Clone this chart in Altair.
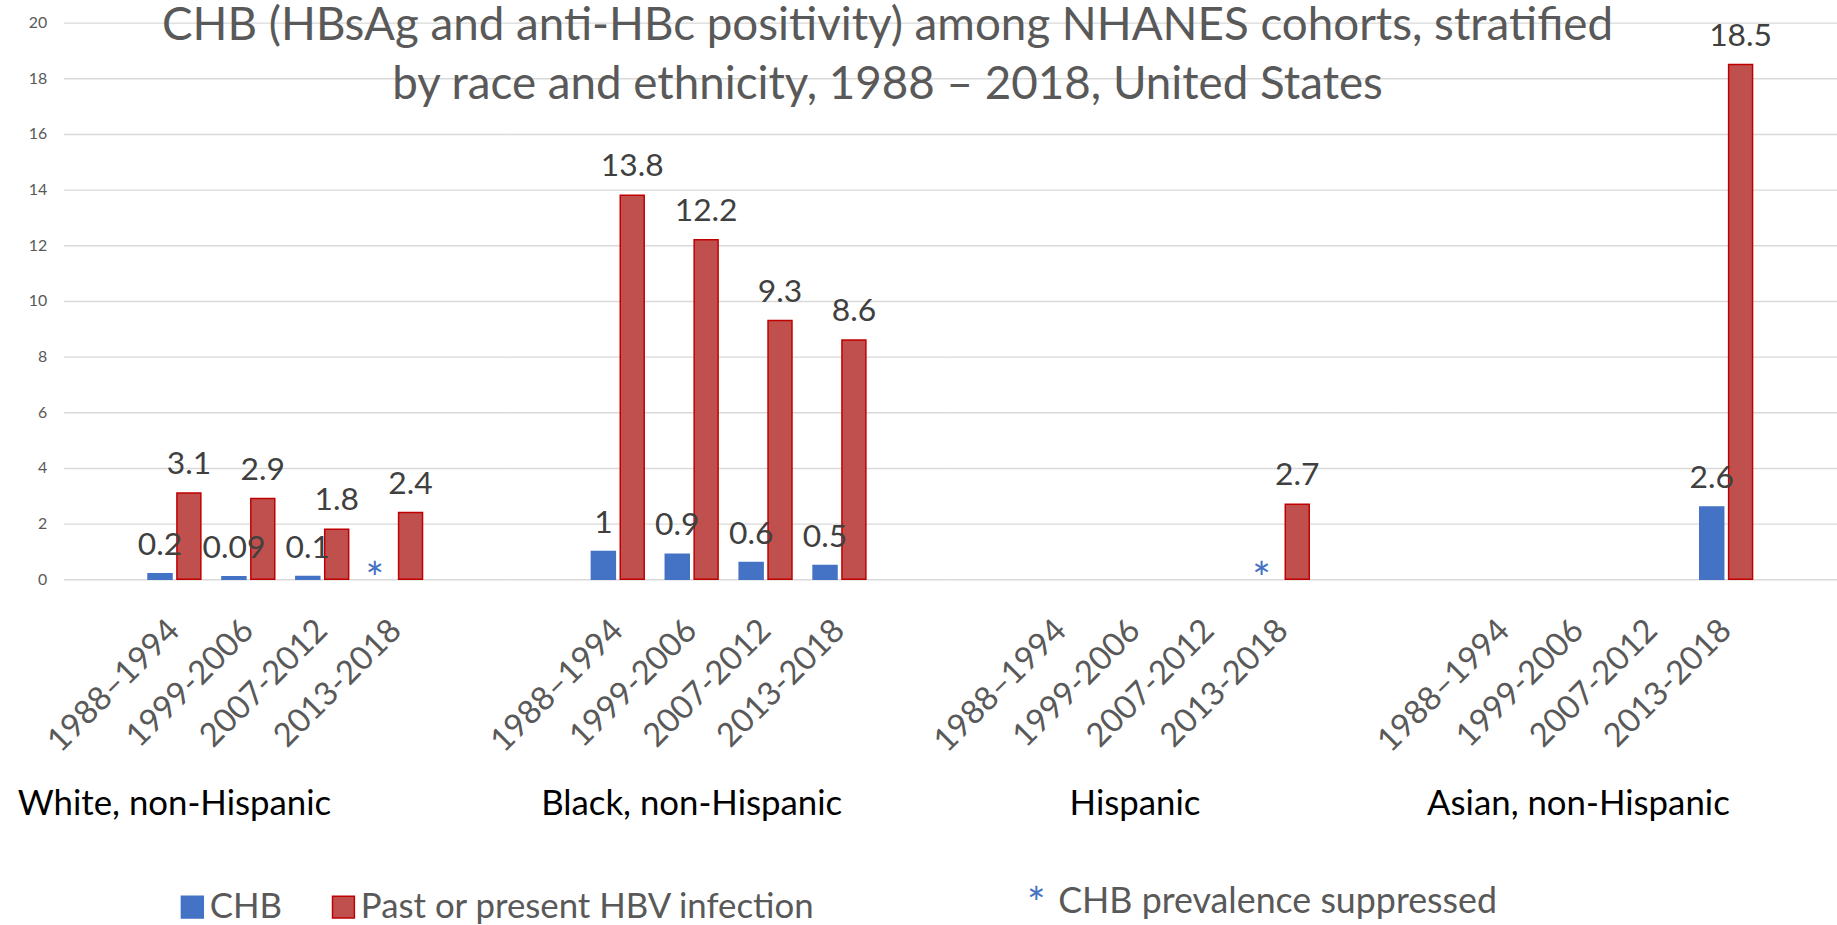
import altair as alt
import pandas as pd

groups = ["White, non-Hispanic", "Black, non-Hispanic", "Hispanic", "Asian, non-Hispanic"]
periods = ["1988–1994", "1999-2006", "2007-2012", "2013-2018"]
series = ["CHB", "Past or present HBV infection"]

chb_values = {
    "White, non-Hispanic": [0.2, 0.09, 0.1, None],
    "Black, non-Hispanic": [1, 0.9, 0.6, 0.5],
    "Hispanic": [None, None, None, None],
    "Asian, non-Hispanic": [None, None, None, 2.6],
}
chb_suppressed = {
    "White, non-Hispanic": [False, False, False, True],
    "Black, non-Hispanic": [False, False, False, False],
    "Hispanic": [False, False, False, True],
    "Asian, non-Hispanic": [False, False, False, False],
}
past_values = {
    "White, non-Hispanic": [3.1, 2.9, 1.8, 2.4],
    "Black, non-Hispanic": [13.8, 12.2, 9.3, 8.6],
    "Hispanic": [None, None, None, 2.7],
    "Asian, non-Hispanic": [None, None, None, 18.5],
}
group_label_anchor = {
    "White, non-Hispanic": "1988–1994",
    "Black, non-Hispanic": "1999-2006",
    "Hispanic": "1999-2006",
    "Asian, non-Hispanic": "1999-2006",
}

title_lines = [
    "CHB (HBsAg and anti-HBc positivity) among NHANES cohorts, stratified",
    "by race and ethnicity, 1988 – 2018, United States",
]
footnote = "CHB prevalence suppressed"

rows = []
for g in groups:
    for i, p in enumerate(periods):
        for s in series:
            v = chb_values[g][i] if s == series[0] else past_values[g][i]
            rows.append({
                "group": g,
                "period": p,
                "series": s,
                "value": v,
                "suppressed": bool(chb_suppressed[g][i]) if s == series[0] else False,
                "anchor": (p == group_label_anchor[g]) and s == series[0],
                "foot": (g == "Hispanic") and i == 0 and s == series[0],
            })
df = pd.DataFrame(rows)

FONT = "Lato"
W, H = 446, 560

legend = alt.Legend(
    orient="none", legendX=112, legendY=872, direction="horizontal", title=None,
    labelFont=FONT, labelFontSize=35, labelColor="#595959", symbolType="square",
    symbolSize=484, symbolStrokeWidth=1.5, labelOffset=0, columnPadding=44,
    symbolOpacity=1, labelLimit=0,
)

x_enc = alt.X(
    "period:N", sort=periods, title=None,
    scale=alt.Scale(paddingInner=0, paddingOuter=1),
    axis=alt.Axis(labelAngle=-45, labelAlign="right", labelBaseline="middle",
                  labelFont=FONT, labelFontSize=33, labelColor="#595959",
                  ticks=False, tickSize=0, domain=False, labelPadding=46,
                  labelLimit=0, grid=False),
)
xoff = alt.XOffset("series:N", sort=series,
                   scale=alt.Scale(paddingInner=0.17, paddingOuter=0.365))
y_enc = alt.Y(
    "value:Q", title=None,
    scale=alt.Scale(domain=[0, 20], nice=False),
    axis=alt.Axis(values=list(range(0, 21, 2)), labelFont=FONT, labelFontSize=16,
                  labelColor="#595959", ticks=False, domain=False, labelPadding=17,
                  gridColor="#D9D9D9", gridWidth=1.4),
)

base = alt.Chart().encode(x=x_enc)

bars = base.mark_bar(strokeWidth=1.5).encode(
    xOffset=xoff,
    y=y_enc,
    color=alt.Color("series:N", sort=series,
                    scale=alt.Scale(domain=series, range=["#4472C4", "#C0504D"]),
                    legend=legend),
    stroke=alt.Stroke("series:N", sort=series,
                      scale=alt.Scale(domain=series, range=["#4472C4", "#C00000"]),
                      legend=legend),
).transform_filter("isValid(datum.value)")

labels = base.mark_text(font=FONT, fontSize=32, color="#404040", baseline="alphabetic",
                        dy=-19).encode(
    xOffset=xoff,
    y=alt.Y("value:Q"),
    text=alt.Text("value:Q", format="~g"),
).transform_filter("isValid(datum.value)")

stars = base.mark_text(font=FONT, fontSize=44, color="#4472C4", baseline="alphabetic",
                       dy=15, dx=-7).encode(
    xOffset=xoff,
    y=alt.datum(0),
    text=alt.value("*"),
).transform_filter("datum.suppressed")

group_text = base.mark_text(font=FONT, fontSize=35, color="#000000", baseline="alphabetic",
                            align="center").encode(
    y=alt.value(H + 237),
    text=alt.Text("group:N"),
).transform_filter("datum.anchor")

foot_star = base.mark_text(font=FONT, fontSize=44, color="#4472C4", baseline="alphabetic",
                           align="center", dx=-25).encode(
    y=alt.value(H + 342),
    text=alt.value("*"),
).transform_filter("datum.foot")

foot_text = base.mark_text(font=FONT, fontSize=36, color="#595959", baseline="alphabetic",
                           align="left", dx=-3).encode(
    y=alt.value(H + 336),
    text=alt.value(footnote),
).transform_filter("datum.foot")

layered = alt.layer(bars, labels, stars, group_text, foot_star, foot_text, data=df).properties(
    width=W, height=H
)

chart = layered.facet(
    column=alt.Column("group:N", sort=groups, header=None),
    spacing=0,
).properties(
    title=alt.TitleParams(text=title_lines, font=FONT, fontSize=46, fontWeight="normal",
                          color="#595959", lineHeight=60, offset=-95, dx=-40,
                          anchor="middle"),
    bounds="flush",
    padding={"left": 17, "top": 0, "right": 0, "bottom": 0},
).configure_view(stroke=None)

chart.save("out.html", embed_options={"renderer": "svg", "actions": False})
